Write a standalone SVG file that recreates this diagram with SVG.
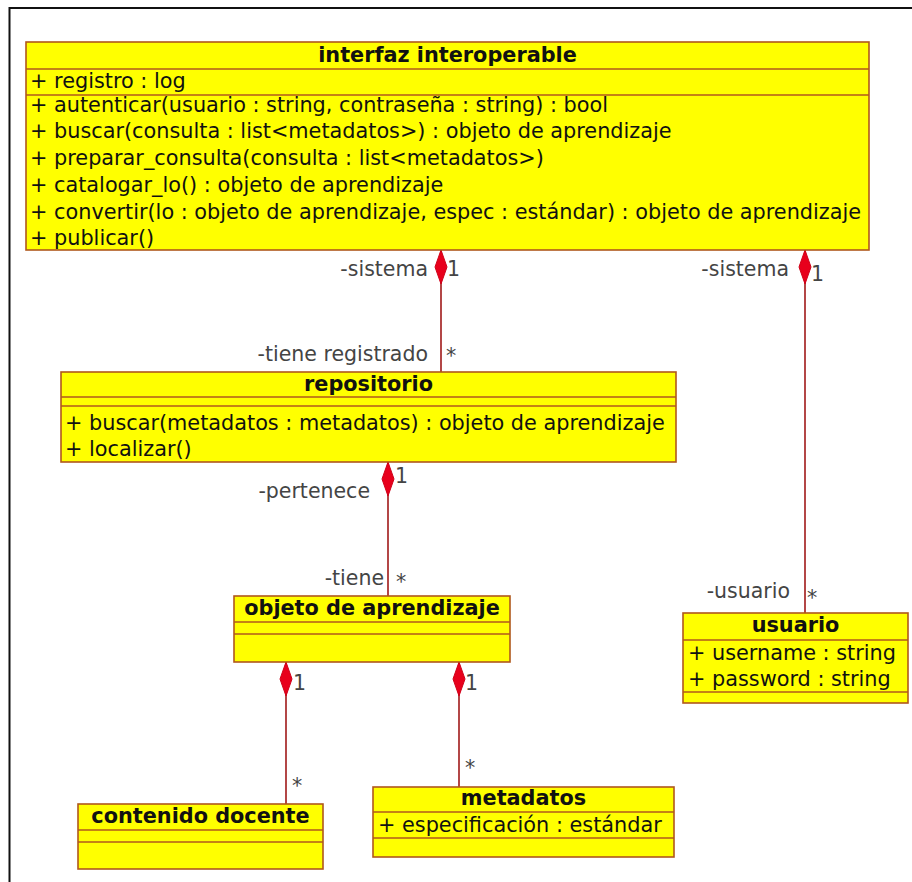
<svg xmlns="http://www.w3.org/2000/svg" width="912" height="882" viewBox="0 0 912 882">
  <style>
    .box { fill: #ffff00; stroke: #b0581c; stroke-width: 1.6; }
    .sep { stroke: #b0581c; stroke-width: 1.6; fill: none; }
    .title { font-family: "DejaVu Sans", sans-serif; font-size: 20.8px; font-weight: bold; fill: #111; text-anchor: middle; }
    .member { font-family: "DejaVu Sans", sans-serif; font-size: 20.8px; fill: #111; }
    .role { font-family: "DejaVu Sans", sans-serif; font-size: 20.5px; fill: #444; }
    .end { text-anchor: end; }
    .link { stroke: #a01818; stroke-width: 1.6; fill: none; }
    .diamond { fill: #e8001c; stroke: #d00018; stroke-width: 1; }
    .frame { stroke: #111; stroke-width: 2; fill: none; }
  </style>
  <defs>
    <!-- composition diamond, tip at origin pointing up -->
    <path id="comp" class="diamond" d="M0,0 L6,17 L0,34 L-6,17 Z"/>
  </defs>

  <rect width="912" height="882" fill="#ffffff"/>
  <path class="frame" d="M9.5,882 V8 H912"/>

  <!-- connectors -->
  <g id="connectors">
    <line class="link" x1="441" y1="250" x2="441" y2="372"/>
    <line class="link" x1="805" y1="250" x2="805" y2="613"/>
    <line class="link" x1="388" y1="462" x2="388" y2="596"/>
    <line class="link" x1="286" y1="662" x2="286" y2="804"/>
    <line class="link" x1="459" y1="662" x2="459" y2="787"/>
    <use href="#comp" x="441" y="250"/>
    <use href="#comp" x="805" y="250"/>
    <use href="#comp" x="388" y="462"/>
    <use href="#comp" x="286" y="662"/>
    <use href="#comp" x="459" y="662"/>

    <text class="role end" x="428" y="276">-sistema</text>
    <text class="role" x="447" y="276">1</text>
    <text class="role end" x="428" y="361">-tiene registrado</text>
    <text class="role" x="446" y="363">*</text>

    <text class="role end" x="789" y="276">-sistema</text>
    <text class="role" x="811" y="281">1</text>
    <text class="role end" x="790" y="598">-usuario</text>
    <text class="role" x="807" y="605">*</text>

    <text class="role" x="395" y="483">1</text>
    <text class="role end" x="370" y="498">-pertenece</text>
    <text class="role end" x="384" y="585">-tiene</text>
    <text class="role" x="396" y="589">*</text>

    <text class="role" x="293" y="690">1</text>
    <text class="role" x="292" y="793">*</text>
    <text class="role" x="465" y="690">1</text>
    <text class="role" x="465" y="775">*</text>
  </g>

  <g id="interfaz-interoperable">
    <rect class="box" x="26" y="42" width="843" height="208"/>
    <line class="sep" x1="26" y1="69" x2="869" y2="69"/>
    <line class="sep" x1="26" y1="95" x2="869" y2="95"/>
    <text class="title" x="447.5" y="62">interfaz interoperable</text>
    <text class="member" x="30" y="88">+ registro : log</text>
    <text class="member" x="30" y="112">+ autenticar(usuario : string, contraseña : string) : bool</text>
    <text class="member" x="30" y="138">+ buscar(consulta : list&lt;metadatos&gt;) : objeto de aprendizaje</text>
    <text class="member" x="30" y="165">+ preparar_consulta(consulta : list&lt;metadatos&gt;)</text>
    <text class="member" x="30" y="192">+ catalogar_lo() : objeto de aprendizaje</text>
    <text class="member" x="30" y="219">+ convertir(lo : objeto de aprendizaje, espec : estándar) : objeto de aprendizaje</text>
    <text class="member" x="30" y="245">+ publicar()</text>
  </g>

  <g id="repositorio">
    <rect class="box" x="61" y="372" width="615" height="90"/>
    <line class="sep" x1="61" y1="397" x2="676" y2="397"/>
    <line class="sep" x1="61" y1="406" x2="676" y2="406"/>
    <text class="title" x="368.5" y="391">repositorio</text>
    <text class="member" x="65" y="430">+ buscar(metadatos : metadatos) : objeto de aprendizaje</text>
    <text class="member" x="65" y="456">+ localizar()</text>
  </g>

  <g id="objeto-de-aprendizaje">
    <rect class="box" x="234" y="596" width="276" height="66"/>
    <line class="sep" x1="234" y1="622" x2="510" y2="622"/>
    <line class="sep" x1="234" y1="634" x2="510" y2="634"/>
    <text class="title" x="372" y="615">objeto de aprendizaje</text>
  </g>

  <g id="usuario">
    <rect class="box" x="683" y="613" width="225" height="90"/>
    <line class="sep" x1="683" y1="640" x2="908" y2="640"/>
    <line class="sep" x1="683" y1="692" x2="908" y2="692"/>
    <text class="title" x="795.5" y="632">usuario</text>
    <text class="member" x="688" y="660">+ username : string</text>
    <text class="member" x="688" y="686">+ password : string</text>
  </g>

  <g id="contenido-docente">
    <rect class="box" x="78" y="804" width="245" height="65"/>
    <line class="sep" x1="78" y1="830" x2="323" y2="830"/>
    <line class="sep" x1="78" y1="842" x2="323" y2="842"/>
    <text class="title" x="200.5" y="823">contenido docente</text>
  </g>

  <g id="metadatos">
    <rect class="box" x="373" y="787" width="301" height="70"/>
    <line class="sep" x1="373" y1="812" x2="674" y2="812"/>
    <line class="sep" x1="373" y1="838" x2="674" y2="838"/>
    <text class="title" x="523.5" y="805">metadatos</text>
    <text class="member" x="378" y="832">+ especificación : estándar</text>
  </g>
</svg>
